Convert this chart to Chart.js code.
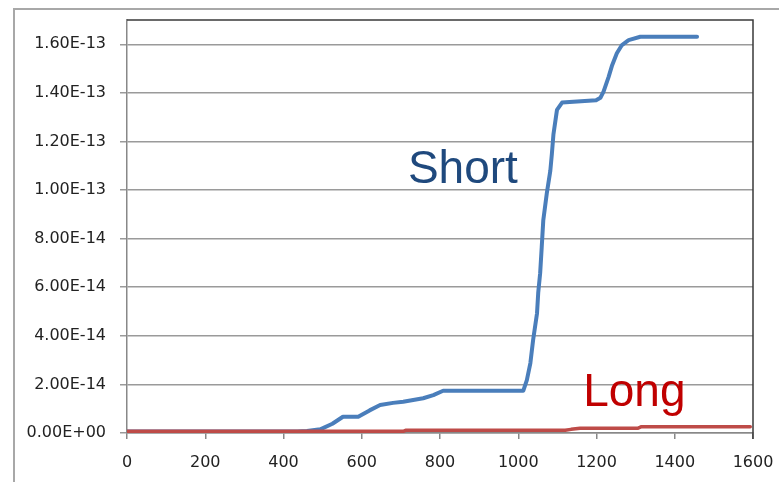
<!DOCTYPE html>
<html>
<head>
<meta charset="utf-8">
<script src="https://cdn.jsdelivr.net/npm/chart.js@4"></script>
<style>
  body { margin: 0; background: #fff; }
  #wrap { position: relative; width: 779px; height: 482px; overflow: hidden; }
  #frame { position: absolute; left: 13px; top: 8px; width: 900px; height: 600px;
           border-left: 2px solid #a8a8a8; border-top: 2px solid #a8a8a8; }
  #chart { position: absolute; left: 0; top: 0; }
</style>
</head>
<body>
<div id="wrap">
  <div id="frame"></div>
  <canvas id="chart" width="779" height="482"></canvas>
</div>
<script>
// data
const shortX = [0, 435, 460, 494, 525, 552, 591, 620, 647, 680, 706, 757, 783, 808,
  1013, 1022, 1031, 1038, 1048, 1051, 1056, 1060, 1064, 1073, 1082, 1086, 1090, 1099, 1112,
  1199, 1210, 1218, 1231, 1240, 1252, 1265, 1282, 1312, 1457];
const shortY = [6e-16, 6e-16, 8e-16, 1.5e-15, 3.8e-15, 6.7e-15, 6.7e-15, 9.3e-15, 1.15e-14, 1.24e-14, 1.29e-14, 1.43e-14, 1.56e-14, 1.74e-14,
  1.74e-14, 2.18e-14, 2.88e-14, 3.83e-14, 4.93e-14, 5.76e-14, 6.58e-14, 7.65e-14, 8.76e-14, 9.87e-14, 1.08e-13, 1.15e-13, 1.23e-13, 1.33e-13, 1.36e-13,
  1.37e-13, 1.38e-13, 1.405e-13, 1.466e-13, 1.514e-13, 1.563e-13, 1.597e-13, 1.617e-13, 1.631e-13, 1.631e-13];

const longX = [0, 706, 712, 1120, 1135, 1158, 1305, 1315, 1593];
const longY = [7e-16, 7e-16, 1.1e-15, 1.1e-15, 1.5e-15, 1.95e-15, 1.95e-15, 2.6e-15, 2.6e-15];

const xTicks = [0, 200, 400, 600, 800, 1000, 1200, 1400, 1600];
const yTicks = [0, 2e-14, 4e-14, 6e-14, 8e-14, 1e-13, 1.2e-13, 1.4e-13, 1.6e-13];

function toPoints(xs, ys) {
  return xs.map((x, i) => ({ x: x, y: ys[i] }));
}

// Excel style 1.60E-13 / 0.00E+00
function sci(v) {
  if (v === 0) return "0.00E+00";
  const parts = v.toExponential(2).toUpperCase().split("E");
  const n = parseInt(parts[1], 10);
  return parts[0] + "E" + (n < 0 ? "-" : "+") + String(Math.abs(n)).padStart(2, "0");
}

const tickFont = { family: "'DejaVu Sans', Verdana, sans-serif", size: 16 };

// top/right border of the plot area plus the two series names
const decorPlugin = {
  id: "decor",
  afterDatasetsDraw(chart) {
    const { ctx, chartArea, scales } = chart;
    ctx.save();
    ctx.strokeStyle = "#3a3a3a";
    ctx.lineWidth = 1.5;
    ctx.beginPath();
    ctx.moveTo(chartArea.left, chartArea.top);
    ctx.lineTo(chartArea.right, chartArea.top);
    ctx.lineTo(chartArea.right, chartArea.bottom + 6);
    ctx.stroke();

    ctx.font = "46px 'Liberation Sans', Arial, sans-serif";
    ctx.textBaseline = "alphabetic";
    ctx.fillStyle = "#1F497D";
    ctx.fillText("Short", scales.x.getPixelForValue(718), scales.y.getPixelForValue(1.027e-13));
    ctx.fillStyle = "#C00000";
    ctx.fillText("Long", scales.x.getPixelForValue(1166), scales.y.getPixelForValue(1.12e-14));
    ctx.restore();
  }
};

new Chart(document.getElementById("chart"), {
  type: "line",
  data: {
    datasets: [
      {
        label: "Short",
        data: toPoints(shortX, shortY),
        borderColor: "#4A7EBB",
        borderWidth: 4,
        pointRadius: 0,
        tension: 0,
        borderJoinStyle: "round",
        borderCapStyle: "round",
        order: 2
      },
      {
        label: "Long",
        data: toPoints(longX, longY),
        borderColor: "#BE4B48",
        borderWidth: 3.5,
        pointRadius: 0,
        tension: 0,
        borderJoinStyle: "round",
        borderCapStyle: "round",
        order: 1
      }
    ]
  },
  options: {
    responsive: false,
    animation: false,
    layout: { padding: { left: 0, top: 20, right: 0, bottom: 0 } },
    plugins: {
      legend: { display: false },
      tooltip: { enabled: false }
    },
    scales: {
      x: {
        type: "linear",
        min: 0,
        max: 1600,
        afterBuildTicks: s => { s.ticks = xTicks.map(v => ({ value: v })); },
        afterFit: s => { s.height = 49; s.paddingLeft = 0; s.paddingRight = 26; },
        grid: { drawOnChartArea: false, drawTicks: true, tickLength: 6, color: "#888", lineWidth: 1.5 },
        border: { color: "#888", width: 1.5 },
        ticks: { font: tickFont, color: "#222", padding: 14, maxRotation: 0, autoSkip: false,
                 callback: v => String(v) }
      },
      y: {
        type: "linear",
        min: 0,
        max: 1.7e-13,
        afterBuildTicks: s => { s.ticks = yTicks.map(v => ({ value: v })); },
        afterFit: s => { s.width = 127; s.paddingTop = 0; s.paddingBottom = 0; },
        grid: { color: "#9a9a9a", lineWidth: 1.5, tickLength: 7 },
        border: { color: "#888", width: 1.5 },
        ticks: { font: tickFont, color: "#222", padding: 14, callback: v => sci(v) }
      }
    }
  },
  plugins: [decorPlugin]
});
</script>
</body>
</html>
